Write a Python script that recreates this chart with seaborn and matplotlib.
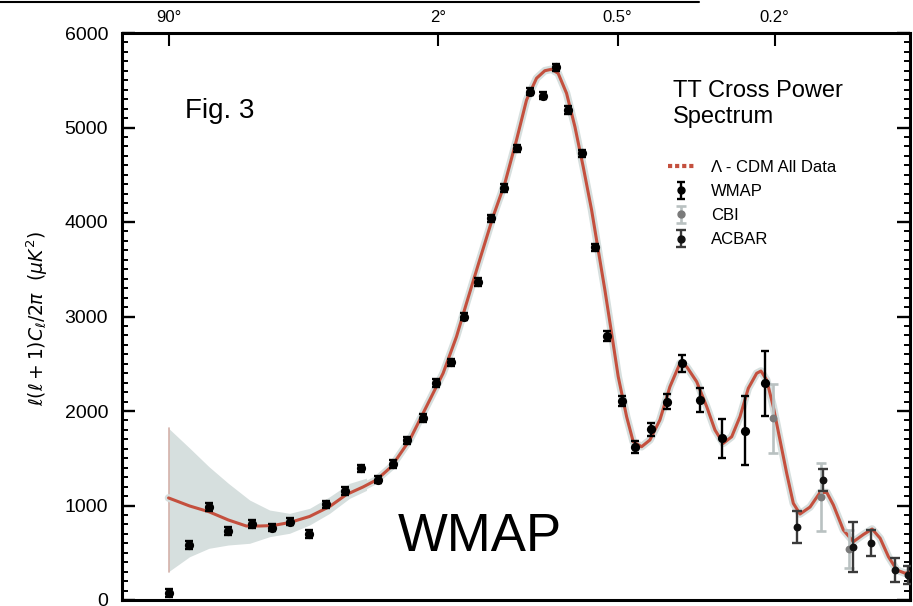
import numpy as np
import pandas as pd
import matplotlib
matplotlib.use('Agg')
import matplotlib.pyplot as plt
from matplotlib.lines import Line2D
from matplotlib.ticker import MultipleLocator, NullLocator
import seaborn as sns

# ---------------- data ----------------
model_l = [2, 3.18, 4.67, 6.64, 8.98, 11.07, 13.51, 17.13, 22.38, 28.76, 35.08, 42.33,
           48.94, 57.27, 68.8, 80.8, 94.3, 106.3, 116.0, 128.1, 145.0, 159.5, 174.9,
           189.0, 203.9, 216.9, 227.9, 239.2, 254.0, 269.5, 285.5, 302.5, 316.4, 330.9,
           346.0, 361.4, 381.6, 398.1, 419.8, 442.2, 470.4, 500.0, 531.0, 552.4, 585.8,
           620.6, 650.6, 681.6, 714.4, 747.7, 782.2, 818.3, 837.3, 863.0, 893.4, 925.3,
           957.9, 991.0, 1025.3, 1078.4, 1133.4, 1171.5, 1209.9, 1269.6, 1331.8, 1396.3,
           1454.5, 1509.5, 1568, 1629, 1691, 1728]
model_v = [1080, 995, 934, 847, 783, 783, 788, 820, 884, 989, 1116, 1196,
           1270, 1411, 1693, 2046, 2399, 2786, 3140, 3545, 4056, 4409, 4868,
           5291, 5521, 5601, 5616, 5573, 5362, 5008, 4585, 4127, 3704, 3280,
           2822, 2363, 1940, 1675, 1622, 1693, 1905, 2257, 2505, 2469, 2310,
           2046, 1799, 1658, 1728, 1940, 2240, 2399, 2423, 2328, 2046, 1693,
           1341, 1023, 910, 984, 1138, 1138, 1005, 741, 617, 693,
           751, 653, 458, 317, 283, 296]

band_l = [2, 3.18, 4.67, 6.64, 9.47, 12.87, 17.13, 22.38, 28.76, 36.4, 44.0]
band_lo = [300, 458, 547, 582, 600, 670, 706, 794, 917, 1076, 1160]
band_hi = [1817, 1608, 1411, 1235, 1058, 952, 917, 970, 1093, 1235, 1290]

wmap_l = [2, 3.13, 4.67, 6.64, 9.77, 13.32, 17.13, 22.18, 27.39, 34.38, 41.57, 49.8,
          58.0, 66.8, 78.3, 88.7, 101.7, 113.3, 128.1, 142.3, 158.2, 175.8, 193.7,
          213.3, 235.1, 256.9, 283.5, 309.3, 336.4, 369.4, 403.0, 444.3, 490.2, 537.8,
          596.8, 675.4, 768.1, 855.3]
wmap_v = [77, 582, 987, 733, 802, 767, 829, 696, 1011, 1153, 1392, 1274,
          1437, 1688, 1923, 2299, 2515, 2998, 3365, 4039, 4357, 4780, 5379,
          5337, 5637, 5185, 4727, 3732, 2794, 2106, 1619, 1806, 2098, 2505,
          2116, 1711, 1792, 2293]
wmap_err = [40, 40, 40, 40, 40, 40, 40, 40, 40, 40, 40, 40,
            40, 40, 40, 40, 40, 40, 40, 40, 40, 40, 40,
            40, 40, 40, 40, 40, 50, 55, 60, 70, 80, 90,
            130, 205, 367, 347]

cbi_l = [893.4, 1140, 1305]
cbi_v = [1923, 1090, 540]
cbi_err = [365, 357, 200]

acbar_l = [1009.8, 1150, 1332, 1450, 1616, 1714]
acbar_v = [769, 1270, 564, 600, 317, 265]
acbar_err = [168, 120, 265, 138, 123, 100]

top_tick_l = [2, 90, 360, 900]
top_tick_labels = ['90°', '2°', '0.5°', '0.2°']
y_ticks = [0, 1000, 2000, 3000, 4000, 5000, 6000]

legend_labels = ['Λ - CDM All Data', 'WMAP', 'CBI', 'ACBAR']

# ---------------- style ----------------
sns.set_theme(style='white')
plt.rcParams['font.family'] = ['Liberation Sans', 'DejaVu Sans']
plt.rcParams['text.color'] = 'black'
plt.rcParams['axes.labelcolor'] = 'black'
plt.rcParams['xtick.color'] = 'black'
plt.rcParams['ytick.color'] = 'black'

RED = '#c4503e'
BAND = '#d6dfde'

W, H = 913, 606
fig = plt.figure(figsize=(W / 100, H / 100), dpi=100)
fig.patch.set_facecolor('white')
ax = fig.add_axes([122 / W, 6 / H, (910 - 122) / W, (600 - 33) / H])
ax.set_facecolor('white')

P = 0.245
ax.set_xscale('function',
              functions=(lambda x: np.power(np.clip(x, 1e-9, None), P),
                         lambda y: np.power(np.clip(y, 1e-9, None), 1 / P)))

# cosmic-variance band
ax.fill_between(band_l, band_lo, band_hi, color=BAND, lw=0, zorder=1)
ax.plot([band_l[0], band_l[0]], [band_lo[0], band_hi[0]], color='#d4b2aa', lw=1.2, zorder=1)

model = pd.DataFrame({'l': model_l, 'v': model_v})
sns.lineplot(data=model, x='l', y='v', ax=ax, color=BAND, lw=5.5, sort=False,
             estimator=None, zorder=2)
sns.lineplot(data=model, x='l', y='v', ax=ax, color=RED, lw=2.2, sort=False,
             estimator=None, zorder=3)

# data points
eb_w = ax.errorbar(wmap_l, wmap_v, yerr=wmap_err, fmt='none', ecolor='black',
                   elinewidth=1.7, capsize=3, capthick=1.7, zorder=5)
eb_c = ax.errorbar(cbi_l, cbi_v, yerr=cbi_err, fmt='none', ecolor='#b9c1c1',
                   elinewidth=1.9, capsize=3.5, capthick=1.9, zorder=4)
eb_a = ax.errorbar(acbar_l, acbar_v, yerr=acbar_err, fmt='none', ecolor='#3a3a3a',
                   elinewidth=1.7, capsize=3.5, capthick=1.7, zorder=4)
sns.scatterplot(x=cbi_l, y=cbi_v, ax=ax, color='#7a7a7a', s=32, linewidth=0, zorder=6)
sns.scatterplot(x=acbar_l, y=acbar_v, ax=ax, color='#111111', s=32, linewidth=0, zorder=6)
sns.scatterplot(x=wmap_l, y=wmap_v, ax=ax, color='black', s=44, linewidth=0, zorder=7)

# axes
ax.set_xlim(0.565, 1728)
ax.set_ylim(0, 6000)
ax.set_yticks(y_ticks)
ax.set_yticklabels([str(t) for t in y_ticks])
ax.yaxis.set_minor_locator(MultipleLocator(100))
ax.tick_params(axis='y', which='major', direction='in', length=9.5, width=1.7,
               left=True, right=True, labelsize=14, pad=10, colors='black')
ax.tick_params(axis='y', which='minor', direction='in', length=4.5, width=1.4,
               left=True, right=True)

ax.xaxis.tick_top()
ax.set_xticks(top_tick_l)
ax.set_xticklabels(top_tick_labels)
ax.xaxis.set_minor_locator(NullLocator())
ax.tick_params(axis='x', which='major', direction='in', length=9, width=1.5,
               top=True, bottom=False, labeltop=True, labelbottom=False,
               labelsize=12, pad=6, colors='black')
ax.set_xlabel('')
ax.grid(False)
for sp in ax.spines.values():
    sp.set_visible(True)
    sp.set_color('black')
    sp.set_linewidth(2.2)

ax.set_ylabel(r'$\ell(\ell+1)C_\ell/2\pi\ \ (\mu K^2)$', fontsize=13.5, color='black')
ax.yaxis.set_label_coords(-0.092, 0.497)

# legend
handles = [Line2D([], [], color=RED, lw=3.0, ls=(0, (1, 0.7))),
           (eb_w, Line2D([], [], marker='o', ls='none', color='black', ms=5)),
           (eb_c, Line2D([], [], marker='o', ls='none', color='#7a7a7a', ms=5)),
           (eb_a, Line2D([], [], marker='o', ls='none', color='#111111', ms=5))]
leg = fig.legend(handles, legend_labels, loc='upper left',
                 bbox_to_anchor=(668 / W, 1 - 160 / H), frameon=False,
                 fontsize=12, handlelength=1.6, handletextpad=1.0,
                 labelspacing=0.55, borderpad=0, borderaxespad=0)
for t in leg.get_texts():
    t.set_color('black')

# text annotations
fig.text(673 / W, 1 - 96.7 / H, 'TT Cross Power', fontsize=17, va='baseline', ha='left')
fig.text(673 / W, 1 - 123.3 / H, 'Spectrum', fontsize=17, va='baseline', ha='left')
fig.text(185 / W, 1 - 118 / H, 'Fig. 3', fontsize=20, va='baseline', ha='left')
fig.text(398 / W, 1 - 550.7 / H, 'WMAP', fontsize=38, va='baseline', ha='left')

# thin rule at the very top of the page
fig.add_artist(Line2D([0, 699 / W], [1 - 2 / H, 1 - 2 / H], color='black', lw=1.5))

fig.savefig('out.png', dpi=100)
